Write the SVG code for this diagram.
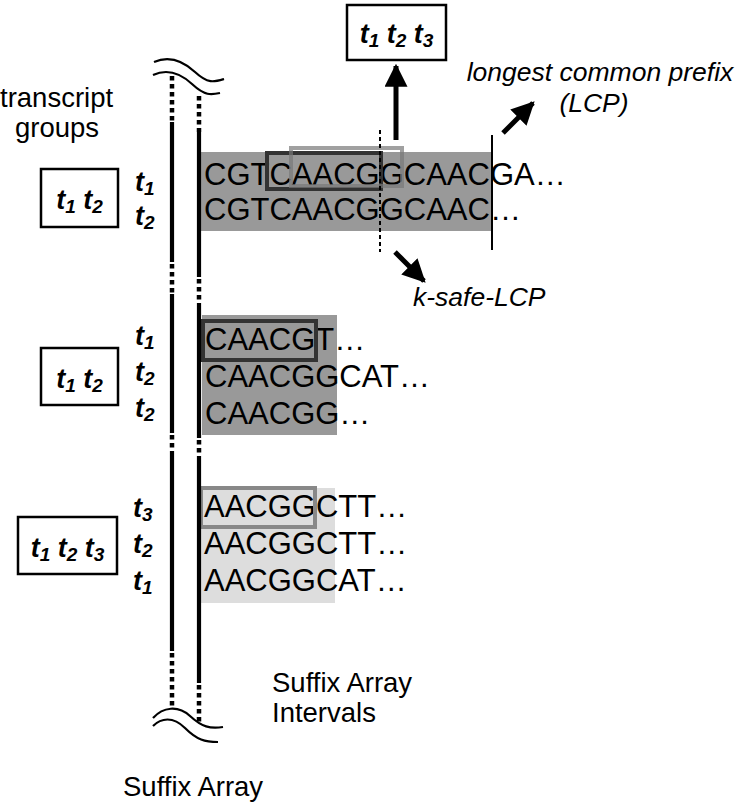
<svg xmlns="http://www.w3.org/2000/svg" width="739" height="804" viewBox="0 0 739 804">
<defs>
<style>
.lbl{font-family:"Liberation Sans",Arial,sans-serif;font-size:27.5px;fill:#000}
.it{font-family:"Liberation Sans",Arial,sans-serif;font-size:26.5px;font-style:italic;fill:#000}
.seq{font-family:"Liberation Sans",Arial,sans-serif;font-size:31px;fill:#000}
.t{font-family:"Liberation Sans",Arial,sans-serif;font-size:27px;font-weight:bold;font-style:italic;fill:#000}
.sub{font-size:19px}
.box{fill:#fff;stroke:#000;stroke-width:2.5}
.solid{stroke:#000;stroke-width:4.2;fill:none}
.dots{stroke:#000;stroke-width:4.5;stroke-dasharray:4.5 3.5;fill:none}
.wave{stroke:#000;stroke-width:2.2;fill:none}
.arr{stroke:#000;stroke-width:5;fill:none}
</style>
<marker id="ah" viewBox="0 0 10 10" refX="9" refY="5" markerWidth="4.6" markerHeight="4.6" orient="auto" markerUnits="strokeWidth">
<path d="M0,0 L10,5 L0,10 z" fill="#000"/>
</marker>
</defs>

<g id="title-transcript-groups">
<text class="lbl" x="0" y="107">transcript</text>
<text class="lbl" x="57" y="137" text-anchor="middle">groups</text>
</g>

<g id="suffix-array">
<path class="wave" d="M154,62 C168,56 182,60 195,72 S214,82 224,79"/>
<path class="wave" d="M153,75 C166,69 179,72 192,84 S211,95 220,93"/>
<path class="dots" d="M172,76 V122"/>
<path class="solid" d="M172,122 V262"/>
<path class="dots" d="M172,264 V294"/>
<path class="solid" d="M172,294 V433"/>
<path class="dots" d="M172,435 V451"/>
<path class="solid" d="M172,451 V651"/>
<path class="dots" d="M172,653 V708"/>
<path class="wave" d="M153,718 C163,707 178,705 190,716 S210,729 223,727"/>
<path class="wave" d="M153,726 C161,718 173,716 185,728 S205,742 218,742"/>
<text class="lbl" x="123" y="796">Suffix Array</text>
</g>

<g id="group1">
<rect x="197" y="152" width="295" height="79" fill="#999"/>
<text class="seq" x="204" y="185">CGTCAACGGCAACGA…</text>
<text class="seq" x="204" y="220">CGTCAACGGCAAC…</text>
<rect x="267" y="153" width="114" height="36" fill="none" stroke="#333" stroke-width="4"/>
<rect x="291" y="148" width="111" height="38" fill="none" stroke="#777" stroke-opacity="0.7" stroke-width="4"/>
<rect class="box" x="41" y="169" width="77" height="58"/>
<text class="t" x="79.5" y="209" text-anchor="middle">t<tspan class="sub" dy="4">1</tspan><tspan dy="-4"> t</tspan><tspan class="sub" dy="4">2</tspan></text>
<text class="t" x="135" y="191">t<tspan class="sub" dy="4">1</tspan></text>
<text class="t" x="135" y="225">t<tspan class="sub" dy="4">2</tspan></text>
</g>

<g id="group2">
<rect x="202" y="315" width="135" height="120" fill="#999"/>
<text class="seq" x="205" y="350">CAACGT…</text>
<text class="seq" x="205" y="387">CAACGGCAT…</text>
<text class="seq" x="205" y="424">CAACGG…</text>
<rect x="203" y="321" width="113" height="39" fill="none" stroke="#333" stroke-width="4"/>
<rect class="box" x="41" y="348" width="77" height="57"/>
<text class="t" x="79.5" y="388" text-anchor="middle">t<tspan class="sub" dy="4">1</tspan><tspan dy="-4"> t</tspan><tspan class="sub" dy="4">2</tspan></text>
<text class="t" x="135" y="345">t<tspan class="sub" dy="4">1</tspan></text>
<text class="t" x="135" y="381">t<tspan class="sub" dy="4">2</tspan></text>
<text class="t" x="135" y="417">t<tspan class="sub" dy="4">2</tspan></text>
</g>

<g id="group3">
<rect x="199" y="488" width="136" height="115" fill="#ddd"/>
<text class="seq" x="204" y="517">AACGGCTT…</text>
<text class="seq" x="204" y="554">AACGGCTT…</text>
<text class="seq" x="204" y="591">AACGGCAT…</text>
<rect x="201" y="488" width="114" height="39" fill="none" stroke="#888" stroke-width="4"/>
<rect class="box" x="18" y="517" width="99" height="57"/>
<text class="t" x="67.5" y="557" text-anchor="middle">t<tspan class="sub" dy="4">1</tspan><tspan dy="-4"> t</tspan><tspan class="sub" dy="4">2</tspan><tspan dy="-4"> t</tspan><tspan class="sub" dy="4">3</tspan></text>
<text class="t" x="133" y="517">t<tspan class="sub" dy="4">3</tspan></text>
<text class="t" x="133" y="553">t<tspan class="sub" dy="4">2</tspan></text>
<text class="t" x="133" y="590">t<tspan class="sub" dy="4">1</tspan></text>
</g>

<g id="suffix-array-intervals">
<path class="dots" d="M199,96 V132"/>
<path class="solid" d="M199,132 V277"/>
<path class="dots" d="M199,279 V303"/>
<path class="solid" d="M199,303 V438"/>
<path class="dots" d="M199,440 V456"/>
<path class="solid" d="M199,456 V683"/>
<path class="dots" d="M199,685 V722"/>
<text class="lbl" x="272" y="692">Suffix Array</text>
<text class="lbl" x="272" y="722">Intervals</text>
</g>

<g id="kmer-box">
<rect class="box" x="347" y="5" width="99" height="55"/>
<text class="t" x="396.5" y="43" text-anchor="middle">t<tspan class="sub" dy="4">1</tspan><tspan dy="-4"> t</tspan><tspan class="sub" dy="4">2</tspan><tspan dy="-4"> t</tspan><tspan class="sub" dy="4">3</tspan></text>
</g>

<g id="lcp-label">
<text class="it" x="600" y="81" text-anchor="middle">longest common prefix</text>
<text class="it" x="594" y="112" text-anchor="middle">(LCP)</text>
</g>

<g id="k-safe-lcp-label">
<text class="it" x="413" y="306">k-safe-LCP</text>
</g>

<g id="connectors">
<path d="M380,130 V252" stroke="#000" stroke-width="2" stroke-dasharray="4 3" fill="none"/>
<path d="M492,135 V250" stroke="#000" stroke-width="2" fill="none"/>
<path class="arr" d="M396,140 V66" marker-end="url(#ah)"/>
<path class="arr" d="M503,133 L533,103" marker-end="url(#ah)"/>
<path class="arr" d="M395,252 L424,281" marker-end="url(#ah)"/>
</g>
</svg>
